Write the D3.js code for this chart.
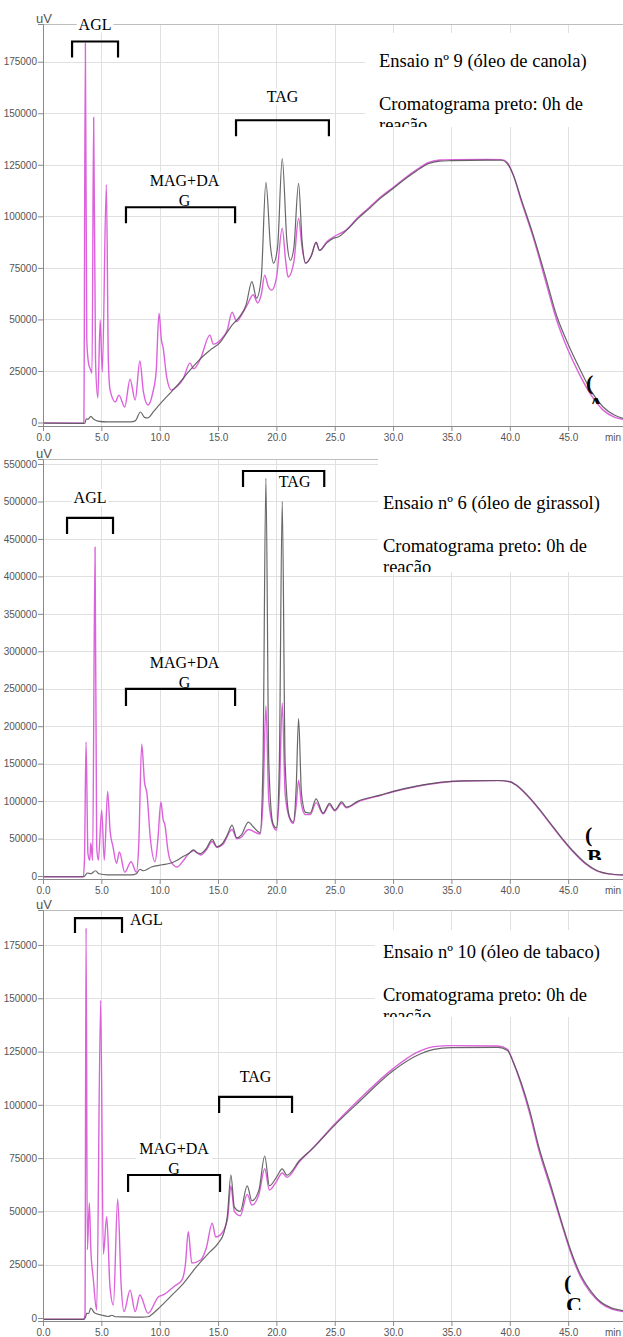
<!DOCTYPE html>
<html>
<head>
<meta charset="utf-8">
<script src="https://cdn.jsdelivr.net/npm/d3@7"></script>
<style>
  body { margin: 0; background: #fff; }
  svg { display: block; }
</style>
</head>
<body>
<script>
// ---- Chromatogram traces: [retention time (min), signal (uV)] ----
// Run 9 (canola oil)
const canola0h = [[0,-300],[3.4,-400],[3.6,-300],[3.7,1800],[3.85,1500],[4.1,3000],[4.3,1800],[4.7,700],[5.5,300],[7.5,300],[7.9,800],[8.35,5100],[8.7,2500],[8.95,2200],[9.5,5500],[10,8800],[10.5,11900],[11.5,18000],[12.6,25400],[13.5,31000],[14.3,35000],[15.2,39000],[15.8,44000],[16.2,47200],[16.8,51000],[17.4,57000],[17.9,68300],[18.3,60300],[18.7,70000],[19.1,116500],[19.5,85000],[19.75,77300],[20.1,85000],[20.5,128000],[20.9,88000],[21.2,78700],[21.5,85000],[21.9,116000],[22.2,88000],[22.5,77300],[23.0,81000],[23.4,87400],[23.7,83500],[24.3,87000],[24.9,89400],[25.3,90000],[26,93200],[27,99000],[28,104000],[28.9,108700],[30,113500],[31,118000],[32,122000],[33,125500],[34,126800],[35,127000],[38,127300],[39.3,127200],[39.8,125500],[40.3,120000],[41,108000],[42,91000],[43,72000],[44,52000],[45,38000],[46,26000],[47,15000],[48,7500],[49,3500],[49.7,2000]];
const canolaReacted = [[0,-200],[3.4,-300],[3.5,500],[3.63,184000],[3.75,40000],[3.9,28800],[4.05,26000],[4.2,24000],[4.34,148000],[4.5,30000],[4.7,11900],[4.9,49700],[5.08,24500],[5.43,115400],[5.6,30000],[5.75,15700],[6.2,10000],[6.5,13300],[7.0,7500],[7.46,21000],[7.9,10900],[8.3,29800],[8.6,15000],[9.0,8500],[9.4,14300],[9.7,25000],[9.94,53000],[10.15,40000],[10.3,36000],[10.6,22000],[11.0,15700],[11.5,17500],[12.0,21000],[12.6,28800],[12.9,26000],[13.5,31000],[14.3,42400],[14.6,38000],[15.2,40000],[15.8,45000],[16.2,53500],[16.6,49000],[17.0,52000],[17.5,57000],[18.0,62000],[18.4,58000],[18.7,62000],[19.0,71500],[19.3,66000],[19.6,64200],[20.0,70000],[20.5,94300],[20.8,78000],[21.0,70500],[21.5,78000],[21.9,99000],[22.2,85000],[22.5,77300],[23.0,81000],[23.4,87400],[23.7,83500],[24.3,87500],[24.9,90000],[26,93500],[27,99500],[28,104500],[28.9,109200],[30,114000],[31,118500],[32,122500],[33,126000],[34,127300],[35,127500],[38,127600],[39.3,127500],[39.8,126000],[40.3,120000],[41,107000],[42,90000],[43,70000],[44,50000],[45,35000],[46,23000],[47,13000],[48,6000],[49,2500],[49.7,1500]];

// Run 6 (sunflower oil)
const girassol0h = [[0,-1000],[3.5,-1000],[3.65,1500],[3.8,4000],[4.1,3000],[4.5,7000],[4.8,3000],[5.5,1500],[7.6,1500],[8.0,3000],[8.3,9000],[8.6,7000],[9.3,12000],[10.2,15000],[10.9,17000],[11.5,21000],[12.0,26000],[12.5,30000],[12.9,35000],[13.2,31000],[13.5,30000],[14.0,37000],[14.5,49000],[14.9,39000],[15.4,44000],[15.8,55000],[16.2,68000],[16.6,51000],[17.0,55000],[17.6,72000],[18.0,66000],[18.6,58000],[18.85,150000],[19.1,531000],[19.35,150000],[19.7,70000],[20.0,64000],[20.25,150000],[20.5,500000],[20.75,150000],[21.1,80000],[21.45,72000],[21.7,120000],[21.9,210000],[22.15,110000],[22.5,85000],[22.9,84000],[23.4,103000],[24.0,84000],[24.55,97000],[25.0,88000],[25.6,99000],[26.0,92000],[27,100000],[28.9,108000],[30,113000],[32,120000],[34,125000],[36,127000],[39,127500],[40,126000],[40.5,122000],[41.5,108000],[42.5,90000],[43.5,70000],[44.5,50000],[45.5,32000],[46.5,17000],[47.5,7000],[48.5,3000],[49.7,1500]];
const girassolReacted = [[0,-1000],[3.45,-1000],[3.55,20000],[3.69,179000],[3.85,30000],[4.0,21000],[4.1,44000],[4.25,21000],[4.46,439000],[4.6,40000],[4.74,21000],[5.03,88000],[5.25,21000],[5.54,113000],[5.75,60000],[6.0,39000],[6.3,17000],[6.55,32000],[7.0,5000],[7.55,19000],[8.0,5000],[8.2,40000],[8.46,176000],[8.7,125000],[8.9,111000],[9.2,50000],[9.6,19000],[9.85,50000],[10.1,99000],[10.3,75000],[10.45,68000],[10.7,35000],[10.9,21000],[11.5,12000],[12.0,20000],[12.5,30000],[12.9,34000],[13.5,28000],[14.0,35000],[14.5,46000],[14.9,38000],[15.4,42000],[16.2,62000],[16.6,50000],[17.0,52000],[17.6,62000],[18.6,56000],[18.85,100000],[19.1,227000],[19.35,100000],[19.7,68000],[20.0,61000],[20.25,110000],[20.5,231000],[20.75,110000],[21.1,78000],[21.45,70000],[21.7,95000],[21.9,128000],[22.15,95000],[22.5,82000],[22.9,82000],[23.4,98000],[24.0,83000],[24.55,95000],[25.0,87000],[25.6,97000],[26.0,91000],[27,99000],[28.9,107500],[30,112500],[32,119500],[34,124500],[36,126800],[39,127300],[40,125800],[40.5,121500],[41.5,107000],[42.5,89000],[43.5,69000],[44.5,49000],[45.5,31000],[46.5,16000],[47.5,6500],[48.5,2500],[49.7,1200]];

// Run 10 (tobacco oil)
const tabaco0h = [[0,-600],[3.5,-600],[3.65,500],[3.75,2300],[3.9,2000],[4.1,4700],[4.4,2500],[5.0,1400],[5.6,700],[5.9,1300],[6.2,600],[7,500],[8.5,400],[9.0,600],[9.5,2500],[10,5000],[11,10500],[12,16000],[13,23000],[14.3,31000],[15.0,35000],[15.5,40000],[15.8,48000],[16.1,67000],[16.4,52000],[16.9,50000],[17.5,62000],[17.9,55000],[18.5,60000],[19.0,76000],[19.4,62000],[20.0,66000],[20.5,70000],[20.9,67000],[22,74000],[23,79000],[25,90500],[27,101000],[30,116000],[32,123000],[33.5,126000],[35,126800],[39,127000],[39.8,125500],[40.3,120000],[41,110000],[41.7,97500],[42.5,80000],[43.5,62400],[44.5,44000],[45.2,32000],[46,21000],[46.9,13000],[47.8,7500],[48.6,5000],[49.7,3500]];
const tabacoReacted = [[0,-600],[3.5,-600],[3.6,2000],[3.69,183000],[3.8,32000],[3.97,54000],[4.1,32000],[4.3,19000],[4.6,3700],[4.94,149000],[5.17,30000],[5.46,47500],[5.74,14700],[6.03,6100],[6.4,55800],[6.7,15000],[6.94,3000],[7.46,13100],[7.9,3000],[8.3,10800],[9.0,2200],[9.9,10000],[10.3,10800],[11.2,14700],[11.9,17800],[12.2,25000],[12.45,40500],[12.75,25800],[13.5,27200],[14.0,33000],[14.5,44500],[14.8,38000],[15.2,39000],[15.8,46000],[16.1,62000],[16.4,50000],[16.9,48000],[17.5,58000],[17.9,53000],[18.5,58000],[19.0,70000],[19.4,60000],[20.0,64000],[20.5,68000],[20.9,66000],[22,73500],[23,79000],[25,91000],[27,102000],[30,117000],[32,124500],[33.5,127300],[35,127800],[39,127600],[39.8,126000],[40.3,120000],[41,109000],[41.7,96000],[42.5,78500],[43.5,61000],[44.5,43000],[45.2,31000],[46,20000],[46.9,12000],[47.8,7000],[48.6,4500],[49.7,3000]];

// ---- Axis ticks ----
const timeTicks = [0, 5, 10, 15, 20, 25, 30, 35, 40, 45];
const canolaTicks = [0, 25000, 50000, 75000, 100000, 125000, 150000, 175000];
const girassolTicks = [0, 50000, 100000, 150000, 200000, 250000, 300000, 350000, 400000, 450000, 500000, 550000];
const tabacoTicks = [0, 25000, 50000, 75000, 100000, 125000, 150000, 175000];

// ---- Peak-group brackets: [label, start min, end min, top uV, leg uV] ----
const canolaGroups = [["AGL", 2.49, 6.43, 184800, 177100], ["MAG+DAG", 7.11, 16.46, 104400, 96600], ["TAG", 16.54, 24.5, 146600, 138800]];
const girassolGroups = [["AGL", 2.06, 6.0, 478000, 456600], ["MAG+DAG", 7.11, 16.46, 249700, 227000], ["TAG", 17.14, 24.1, 540700, 519400]];
const tabacoGroups = [["AGL", 2.74, 6.77, 187600, 180600], ["MAG+DAG", 7.29, 15.17, 67100, 59100], ["TAG", 15.09, 21.34, 103700, 96200]];

const captions = ["Ensaio nº 9 (óleo de canola)", "Ensaio nº 6 (óleo de girassol)", "Ensaio nº 10 (óleo de tabaco)"];
const captionLine2 = "Cromatograma preto: 0h de";
const captionLine3 = "reação";
const panelLetters = ["A", "B", "C"];

// ---- Layout ----
const W = 623, H = 1337;
const plotLeft = 43, plotRight = 623, tMax = 49.7;

const panels = [
  { key: "a", black: canola0h, pink: canolaReacted, ticks: canolaTicks, minor: 5000, vMin: -1700, vMax: 193300, top: 24, bottom: 426, groups: canolaGroups,
    label: { AGL: { dx: 0, dy: -17 }, "MAG+DAG": { dx: 4, dy: -26 }, TAG: { dx: 0, dy: -23 } },
    caption: { x: 379, y: 67, box: [365, 33, 258, 94] }, letter: { x: 586, y: 390, clip: 404 } },
  { key: "b", black: girassol0h, pink: girassolReacted, ticks: girassolTicks, minor: 10000, vMin: -4000, vMax: 556700, top: 459, bottom: 879, groups: girassolGroups,
    label: { AGL: { dx: 0, dy: -20 }, "MAG+DAG": { dx: 4, dy: -26 }, TAG: { dx: 11, dy: 11 } },
    caption: { x: 383, y: 509, box: [378, 455, 245, 117] }, letter: { x: 585, y: 842, clip: 860 } },
  { key: "c", black: tabaco0h, pink: tabacoReacted, ticks: tabacoTicks, minor: 5000, vMin: -1400, vMax: 191400, top: 910, bottom: 1321, groups: tabacoGroups,
    label: { AGL: { dx: 0, dy: 2, side: true }, "MAG+DAG": { dx: 0, dy: -26 }, TAG: { dx: 0, dy: -20 } },
    caption: { x: 383, y: 958, box: [375, 930, 248, 87] }, letter: { x: 564, y: 1290, clip: 1310 } }
];

const svg = d3.select("body").append("svg")
  .attr("width", W).attr("height", H)
  .attr("viewBox", `0 0 ${W} ${H}`);
svg.append("rect").attr("width", W).attr("height", H).attr("fill", "#fff");
const defs = svg.append("defs");

const x = d3.scaleLinear().domain([0, tMax]).range([plotLeft, plotRight]);

panels.forEach((p, i) => {
  const y = d3.scaleLinear().domain([p.vMin, p.vMax]).range([p.bottom, p.top]);
  const g = svg.append("g");

  defs.append("clipPath").attr("id", "plot-" + p.key)
    .append("rect").attr("x", plotLeft).attr("y", p.top)
    .attr("width", plotRight - plotLeft).attr("height", p.bottom - p.top);

  // grid
  const grid = g.append("g").attr("stroke", "#e0e0e0").attr("stroke-width", 1);
  grid.selectAll(".gx").data(timeTicks.filter(d => d > 0)).join("line")
    .attr("x1", d => Math.round(x(d)) + 0.5).attr("x2", d => Math.round(x(d)) + 0.5)
    .attr("y1", p.top).attr("y2", p.bottom);
  grid.selectAll(".gy").data(p.ticks.filter(d => d > 0)).join("line")
    .attr("x1", plotLeft).attr("x2", plotRight)
    .attr("y1", d => Math.round(y(d)) + 0.5).attr("y2", d => Math.round(y(d)) + 0.5);

  // frame top
  g.append("line").attr("x1", plotLeft).attr("x2", plotRight)
    .attr("y1", p.top + 0.5).attr("y2", p.top + 0.5).attr("stroke", "#bdbdbd");

  // traces
  const line = d3.line().x(d => x(d[0])).y(d => y(d[1])).curve(d3.curveMonotoneX);
  const traces = g.append("g").attr("clip-path", `url(#plot-${p.key})`).attr("fill", "none");
  traces.append("path").datum(p.pink).attr("d", line)
    .attr("stroke", "#dc62dc").attr("stroke-width", 1.4);
  traces.append("path").datum(p.black).attr("d", line)
    .attr("stroke", "#4d4d4d").attr("stroke-width", 1.2).attr("stroke-opacity", 0.85);

  // y axis
  const yMinor = d3.range(0, p.vMax, p.minor);
  const yAxisG = g.append("g").attr("transform", `translate(${plotLeft},0)`);
  yAxisG.call(d3.axisLeft(y).tickValues(yMinor).tickSize(3).tickFormat(""));
  yAxisG.call(d3.axisLeft(y).tickValues(p.ticks).tickSize(5).tickPadding(1).tickFormat(d => String(d)));
  yAxisG.selectAll(".domain").attr("stroke", "#8a8a8a");
  yAxisG.selectAll("line").attr("stroke", "#8a8a8a");
  yAxisG.selectAll("text").attr("fill", "#555").style("font", "10px 'Liberation Sans', Arial, sans-serif");

  // x axis
  const xAxisG = g.append("g").attr("transform", `translate(0,${p.bottom})`);
  xAxisG.call(d3.axisBottom(x).tickValues(d3.range(0, 50, 1)).tickSize(3).tickFormat(""));
  xAxisG.call(d3.axisBottom(x).tickValues(timeTicks).tickSize(5).tickPadding(3).tickFormat(d3.format(".1f")));
  xAxisG.selectAll(".domain").attr("stroke", "#8a8a8a");
  xAxisG.selectAll("line").attr("stroke", "#8a8a8a");
  xAxisG.selectAll("text").attr("fill", "#555").style("font", "10px 'Liberation Sans', Arial, sans-serif");
  g.append("text").attr("x", 621).attr("y", p.bottom + 15).attr("text-anchor", "end").text("min")
    .attr("fill", "#555").style("font", "10px 'Liberation Sans', Arial, sans-serif");
  g.append("text").attr("x", 36).attr("y", p.top - 1).text("uV")
    .attr("fill", "#555").style("font", "13px 'Liberation Sans', Arial, sans-serif");

  // caption box
  const c = p.caption;
  defs.append("clipPath").attr("id", "cap-" + p.key).append("rect")
    .attr("x", c.box[0]).attr("y", c.box[1]).attr("width", c.box[2]).attr("height", c.box[3]);
  const cap = g.append("g").attr("clip-path", `url(#cap-${p.key})`);
  cap.append("rect").attr("x", c.box[0]).attr("y", c.box[1]).attr("width", c.box[2]).attr("height", c.box[3]).attr("fill", "#fff");
  const capText = cap.append("g").style("font", "18.5px 'Liberation Serif', 'Times New Roman', serif").attr("fill", "#000");
  capText.append("text").attr("x", c.x).attr("y", c.y).text(captions[i]);
  capText.append("text").attr("x", c.x).attr("y", c.y + 43).text(captionLine2);
  capText.append("text").attr("x", c.x).attr("y", c.y + 64).text(captionLine3);

  // panel letter "(A)" wrapped in a narrow box
  const L = p.letter;
  defs.append("clipPath").attr("id", "let-" + p.key).append("rect")
    .attr("x", L.x - 4).attr("y", L.y - 26).attr("width", 40).attr("height", L.clip - (L.y - 26));
  const lg = g.append("g").attr("clip-path", `url(#let-${p.key})`)
    .style("font", "bold 22px 'Liberation Serif', 'Times New Roman', serif").attr("fill", "#000");
  lg.append("text").attr("x", L.x).attr("y", L.y).text("(");
  lg.append("text").attr("x", L.x + 2).attr("y", L.y + 22).text(panelLetters[i]);

  // group brackets
  p.groups.forEach(([name, t0, t1, vTop, vLeg], j) => {
    const bx0 = x(t0), bx1 = x(t1), by = y(vTop), byl = y(vLeg);
    const lab = p.label[name];
    const bg = g.append("g");
    const font = "16px 'Liberation Serif', 'Times New Roman', serif";
    const cx = (bx0 + bx1) / 2 + lab.dx;
    if (name === "MAG+DAG") {
      const id = `lab-${p.key}-${j}`;
      const boxTop = by + lab.dy - 10;
      defs.append("clipPath").attr("id", id).append("rect")
        .attr("x", cx - 38).attr("y", boxTop).attr("width", 76).attr("height", by - boxTop);
      const tg = bg.append("g").attr("clip-path", `url(#${id})`);
      tg.append("rect").attr("x", cx - 38).attr("y", boxTop).attr("width", 76).attr("height", by - boxTop).attr("fill", "#fff");
      tg.append("text").attr("x", cx).attr("y", by + lab.dy + 5).attr("text-anchor", "middle").style("font", font).text("MAG+DA");
      tg.append("text").attr("x", cx).attr("y", by + lab.dy + 25).attr("text-anchor", "middle").style("font", font).text("G");
    } else {
      const tx = lab.side ? bx1 + 8 : cx;
      const ty = by + lab.dy + 5;
      const t = bg.append("text").attr("x", tx).attr("y", ty)
        .attr("text-anchor", lab.side ? "start" : "middle").style("font", font).text(name);
      const bb = t.node().getBBox();
      bg.insert("rect", "text").attr("x", bb.x - 2).attr("y", bb.y).attr("width", bb.width + 4).attr("height", bb.height).attr("fill", "#fff");
    }
    bg.append("path")
      .attr("d", `M${bx0},${byl}V${by}H${bx1}V${byl}`)
      .attr("fill", "none").attr("stroke", "#000").attr("stroke-width", 2.2);
  });
});
</script>
</body>
</html>
